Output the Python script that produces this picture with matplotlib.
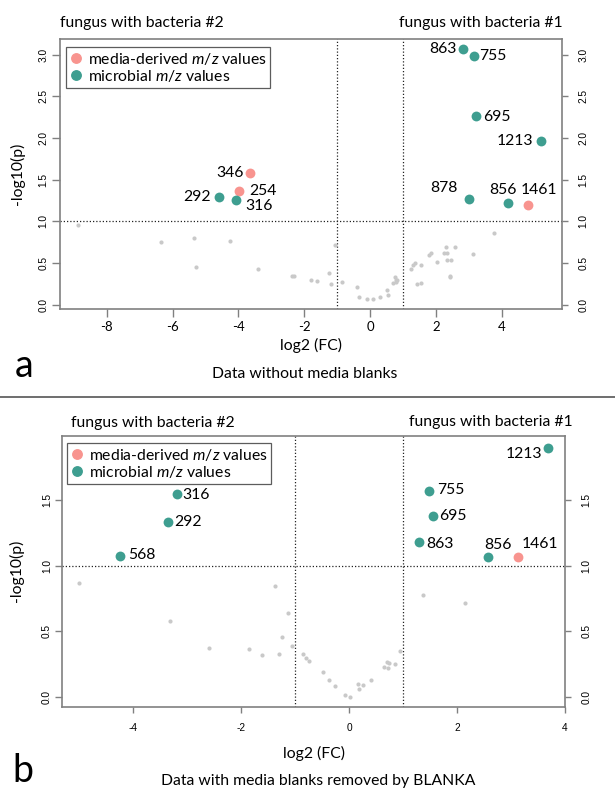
import matplotlib
matplotlib.use("Agg")
import matplotlib.pyplot as plt
from matplotlib.lines import Line2D

# ── data: panel a (without media blanks) ─────────────────────────────────────

A_GRAY_X = [-8.88, -6.36, -5.36, -5.28, -4.27, -3.41, -2.36, -2.30, -1.81, -1.62,
            -1.25, -1.19, -1.08, -0.86, -0.40, -0.33, -0.10, 0.09, 0.29, 0.52,
            0.55, 0.70, 0.76, 0.78, 0.80, 0.81, 1.23, 1.30, 1.37, 1.41,
            1.53, 1.54, 1.79, 1.84, 2.03, 2.25, 2.30, 2.34, 2.33, 2.45,
            2.42, 2.43, 2.58, 3.11, 3.76]
A_GRAY_Y = [0.955, 0.751, 0.80, 0.45, 0.763, 0.43, 0.339, 0.339, 0.30, 0.28,
            0.38, 0.243, 0.72, 0.267, 0.214, 0.09, 0.062, 0.066, 0.09, 0.18,
            0.11, 0.26, 0.33, 0.30, 0.27, 0.29, 0.43, 0.47, 0.495, 0.25,
            0.26, 0.475, 0.59, 0.62, 0.515, 0.62, 0.69, 0.62, 0.53, 0.53,
            0.34, 0.33, 0.695, 0.607, 0.855]

A_MEDIA_X = [-3.65, -3.97, 4.78]
A_MEDIA_Y = [1.577, 1.368, 1.20]
A_MEDIA_LBL = ["346", "254", "1461"]

A_MICRO_X = [-4.59, -4.07, 2.81, 3.14, 3.21, 5.19, 3.01, 4.18]
A_MICRO_Y = [1.288, 1.256, 3.07, 2.99, 2.27, 1.965, 1.27, 1.216]
A_MICRO_LBL = ["292", "316", "863", "755", "695", "1213", "878", "856"]

# ── data: panel b (media blanks removed by BLANKA) ───────────────────────────

B_GRAY_X = [-5.00, -3.32, -2.59, -1.85, -1.62, -1.375, -1.29, -1.235, -1.13, -1.05,
            -0.857, -0.80, -0.75, -0.48, -0.38, -0.26, -0.08, 0.02, 0.17, 0.19,
            0.26, 0.41, 0.645, 0.70, 0.725, 0.745, 0.85, 0.95, 1.38, 2.16]
B_GRAY_Y = [0.866, 0.581, 0.373, 0.366, 0.322, 0.848, 0.327, 0.46, 0.637, 0.39,
            0.325, 0.30, 0.274, 0.188, 0.132, 0.084, 0.018, 0.002, 0.10, 0.06,
            0.089, 0.13, 0.228, 0.264, 0.221, 0.26, 0.251, 0.353, 0.78, 0.713]

B_MEDIA_X = [3.14]
B_MEDIA_Y = [1.064]
B_MEDIA_LBL = ["1461"]

B_MICRO_X = [-3.20, -3.35, -4.25, 3.70, 1.49, 1.55, 1.29, 2.57]
B_MICRO_Y = [1.546, 1.33, 1.076, 1.90, 1.57, 1.38, 1.18, 1.064]
B_MICRO_LBL = ["316", "292", "568", "1213", "755", "695", "863", "856"]

A_XTICKS = [-8, -6, -4, -2, 0, 2, 4]
A_YTICKS = [0.0, 0.5, 1.0, 1.5, 2.0, 2.5, 3.0]
B_XTICKS = [-4, -2, 0, 2, 4]
B_YTICKS = [0.0, 0.5, 1.0, 1.5]

# label placement (ha, dx px, dy px up)
A_OFFSETS = {
    "346": ("right", -6, 0), "254": ("left", 10, 0), "1461": ("center", 11, 15),
    "292": ("right", -8, 0), "316": ("left", 9, -6), "863": ("right", -6, 0),
    "755": ("left", 6, 0), "695": ("left", 7, -1), "1213": ("right", -8, 0),
    "878": ("center", -25, 11), "856": ("center", -5, 13),
}
B_OFFSETS = {
    "1461": ("center", 22, 13), "316": ("left", 6, -1), "292": ("left", 6, 0),
    "568": ("left", 8, 1), "1213": ("center", -25, -6), "755": ("left", 8, 1),
    "695": ("left", 7, 0), "863": ("left", 8, -2), "856": ("center", 10, 12),
}

# ── style ─────────────────────────────────────────────────────────────────────

W, H = 615, 789
PINK = "#f8948f"
TEAL = "#3e9e90"
GRAY = "#c9c9c9"
SPINE = "#808080"
TXT = 11.3

plt.rcParams["font.family"] = ["Lato", "DejaVu Sans"]
plt.rcParams["mathtext.fontset"] = "custom"
plt.rcParams["mathtext.it"] = "Lato:italic"
plt.rcParams["mathtext.rm"] = "Lato"

fig = plt.figure(figsize=(W / 100, H / 100), dpi=100)


def rect(l, t, r, b):
    return [l / W, 1 - b / H, (r - l) / W, (b - t) / H]


def ftext(px, py, s, **kw):
    fig.text(px / W, 1 - py / H, s, **kw)


def panel(box, xlim, ylim, xticks, yticks, gray, media, micro, offsets,
          xfont, xpad, xlen, ylen_l, ylen_r, leg_xy):
    ax = fig.add_axes(rect(*box))
    ax.set_xlim(xlim)
    ax.set_ylim(ylim)
    for s in ax.spines.values():
        s.set_color(SPINE)
        s.set_linewidth(1.2)

    dot = dict(color="#222222", lw=0.9, ls=(0, (1, 1.6)), zorder=1)
    ax.axvline(-1, **dot)
    ax.axvline(1, **dot)
    ax.axhline(1, **dot)

    ax.scatter(*gray, s=9, color=GRAY, lw=0, zorder=2)
    for (xs, ys, lbls), col in ((media, PINK), (micro, TEAL)):
        ax.scatter(xs, ys, s=50, color=col, lw=0, zorder=3)
        for x, y, t in zip(xs, ys, lbls):
            ha, dx, dy = offsets[t]
            ax.annotate(t, (x, y), xytext=(dx, dy), textcoords="offset pixels",
                        ha=ha, va="center", fontsize=TXT, zorder=4)

    ax.set_xticks(xticks)
    ax.set_xticklabels([f"{v:g}" for v in xticks], **xfont)
    ax.tick_params(axis="x", length=xlen, width=1, color=SPINE, pad=xpad)
    ax.set_yticks(yticks)
    ax.set_yticklabels([f"{v:.1f}" for v in yticks], rotation=90,
                       va="center", family="Liberation Sans", fontsize=7.3)
    ax.tick_params(axis="y", length=ylen_l, width=1, color=SPINE, pad=2.2)

    ax2 = ax.twinx()
    ax2.set_ylim(ylim)
    for s in ax2.spines.values():
        s.set_visible(False)
    ax2.set_yticks(yticks)
    ax2.set_yticklabels([f"{v:.1f}" for v in yticks], rotation=90,
                        va="center", family="Liberation Sans", fontsize=7.3)
    ax2.tick_params(axis="y", length=ylen_r, width=1, color=SPINE, pad=7.5)

    handles = [
        Line2D([], [], marker="o", ls="none", ms=6.8, mfc=PINK, mec=PINK),
        Line2D([], [], marker="o", ls="none", ms=6.8, mfc=TEAL, mec=TEAL),
    ]
    leg = ax.legend(handles, ["media-derived $m/z$ values", "microbial $m/z$ values"],
                    loc="upper left", bbox_to_anchor=leg_xy, borderaxespad=0,
                    fontsize=TXT, frameon=True, fancybox=False, borderpad=0.25,
                    handlelength=0.75, handletextpad=0.4, labelspacing=0.08)
    fr = leg.get_frame()
    fr.set_edgecolor("#333333")
    fr.set_linewidth(0.9)
    return ax


# ── panel a ───────────────────────────────────────────────────────────────────

box_a = (60, 39.3, 562.3, 309)
panel(box_a, (-9.42, 5.836), (-0.054, 3.187), A_XTICKS, A_YTICKS,
      (A_GRAY_X, A_GRAY_Y),
      (A_MEDIA_X, A_MEDIA_Y, A_MEDIA_LBL), (A_MICRO_X, A_MICRO_Y, A_MICRO_LBL),
      A_OFFSETS, dict(fontsize=9.5), 2.5, 5.8, 6.0, 4.3,
      (5.7 / 502.3, 1 - 7.4 / 269.7))

ftext(60, 26.7, "fungus with bacteria #2", fontsize=TXT, va="baseline", ha="left")
ftext(562.3, 26.7, "fungus with bacteria #1", fontsize=TXT, va="baseline", ha="right")
ftext(311, 345.7, "log2 (FC)", fontsize=TXT, ha="center", va="center")
ftext(17, 174, "-log10(p)", fontsize=TXT, ha="center", va="center", rotation=90)
ftext(15, 377, "a", fontsize=27, ha="left", va="baseline")
ftext(305, 378, "Data without media blanks", fontsize=TXT, ha="center", va="baseline")

fig.add_artist(Line2D([0, 1], [1 - 397.3 / H] * 2, color="#555555", lw=1.2,
                      transform=fig.transFigure))

# ── panel b ───────────────────────────────────────────────────────────────────

box_b = (62.3, 436, 565, 706.7)
panel(box_b, (-5.319, 4.007), (-0.074, 1.988), B_XTICKS, B_YTICKS,
      (B_GRAY_X, B_GRAY_Y),
      (B_MEDIA_X, B_MEDIA_Y, B_MEDIA_LBL), (B_MICRO_X, B_MICRO_Y, B_MICRO_LBL),
      B_OFFSETS, dict(family="Liberation Sans", fontsize=7.3), 7.6, 4.3, 5.3, 4.3,
      (4.4 / 502.7, 1 - 6.7 / 270.7))

ftext(71, 427.3, "fungus with bacteria #2", fontsize=TXT, va="baseline", ha="left")
ftext(573, 426, "fungus with bacteria #1", fontsize=TXT, va="baseline", ha="right")
ftext(313.6, 758.3, "log2 (FC)", fontsize=TXT, ha="center", va="baseline")
ftext(16, 571, "-log10(p)", fontsize=TXT, ha="center", va="center", rotation=90)
ftext(12, 781.7, "b", fontsize=27, ha="left", va="baseline")
ftext(318, 785.5, "Data with media blanks removed by BLANKA", fontsize=TXT,
      ha="center", va="baseline")

fig.savefig("out.png", dpi=100)
